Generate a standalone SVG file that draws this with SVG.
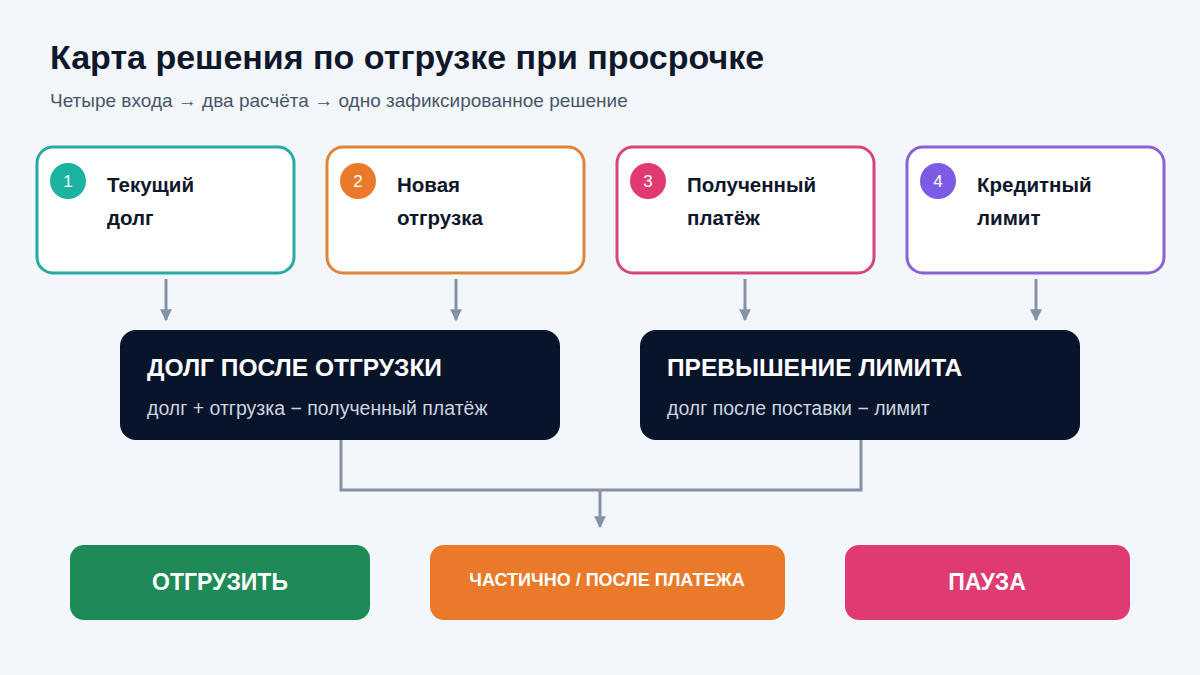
<svg xmlns="http://www.w3.org/2000/svg" width="1200" height="675" viewBox="0 0 1200 675">
<style>
text{font-family:"Liberation Sans",Arial,sans-serif}
.card{fill:#fff;stroke-width:3}
.lbl{font-size:20.5px;font-weight:700;fill:#0f172a}
.num{font-size:17px;fill:#fff;text-anchor:middle}
.dark{fill:#08142a}
.h{font-size:24.5px;font-weight:700;fill:#fff}
.sub{font-size:19.5px;fill:#cbd5e1}
.c{stroke:#8592a6;stroke-width:3;fill:none}
.out{font-weight:700;fill:#fff;text-anchor:middle}
</style>
<defs><marker id="a" viewBox="0 0 10 10" refX="9" refY="5" markerWidth="12" markerHeight="12" orient="auto" markerUnits="userSpaceOnUse"><path d="M0,0L10,5L0,10z" fill="#8592a6"/></marker></defs>
<rect width="1200" height="675" fill="#f3f7fb"/>
<text x="50" y="69" font-size="34" font-weight="700" fill="#0f172a">Карта решения по отгрузке при просрочке</text>
<text x="50" y="107" font-size="19" fill="#475569">Четыре входа → два расчёта → одно зафиксированное решение</text>
<g id="n1"><rect class="card" x="37" y="147" width="257" height="126" rx="16" stroke="#27aaa3"/><circle cx="68" cy="181" r="18" fill="#1bb3a0"/><text class="num" x="68" y="187">1</text><text class="lbl" x="107" y="192">Текущий</text><text class="lbl" x="107" y="225">долг</text></g>
<g id="n2"><rect class="card" x="327" y="147" width="257" height="126" rx="16" stroke="#e0843a"/><circle cx="358" cy="181" r="18" fill="#ea7a2a"/><text class="num" x="358" y="187">2</text><text class="lbl" x="397" y="192">Новая</text><text class="lbl" x="397" y="225">отгрузка</text></g>
<g id="n3"><rect class="card" x="617" y="147" width="257" height="126" rx="16" stroke="#d6467a"/><circle cx="648" cy="181" r="18" fill="#e13a73"/><text class="num" x="648" y="187">3</text><text class="lbl" x="687" y="192">Полученный</text><text class="lbl" x="687" y="225">платёж</text></g>
<g id="n4"><rect class="card" x="907" y="147" width="257" height="126" rx="16" stroke="#8a63d2"/><circle cx="938" cy="181" r="18" fill="#7c5ae6"/><text class="num" x="938" y="187">4</text><text class="lbl" x="977" y="192">Кредитный</text><text class="lbl" x="977" y="225">лимит</text></g>
<g id="calc1"><rect class="dark" x="120" y="330" width="440" height="110" rx="16"/><text class="h" x="147" y="376">ДОЛГ ПОСЛЕ ОТГРУЗКИ</text><text class="sub" x="147" y="415">долг + отгрузка − полученный платёж</text></g>
<g id="calc2"><rect class="dark" x="640" y="330" width="440" height="110" rx="16"/><text class="h" x="667" y="376">ПРЕВЫШЕНИЕ ЛИМИТА</text><text class="sub" x="667" y="415">долг после поставки − лимит</text></g>
<g id="o1"><rect x="70" y="545" width="300" height="75" rx="14" fill="#1d8a57"/><text class="out" x="220" y="590" font-size="23">ОТГРУЗИТЬ</text></g>
<g id="o2"><rect x="430" y="545" width="355" height="75" rx="14" fill="#ea7a2a"/><text class="out" x="607" y="586" font-size="18" fill="#fff6e0">ЧАСТИЧНО / ПОСЛЕ ПЛАТЕЖА</text></g>
<g id="o3"><rect x="845" y="545" width="285" height="75" rx="14" fill="#df3a72"/><text class="out" x="987" y="590" font-size="23">ПАУЗА</text></g>
<g id="connectors">
<path class="c" d="M166,279V320" marker-end="url(#a)"/>
<path class="c" d="M456,279V320" marker-end="url(#a)"/>
<path class="c" d="M745,279V320" marker-end="url(#a)"/>
<path class="c" d="M1036,279V320" marker-end="url(#a)"/>
<path class="c" d="M341,440V490H861V440"/>
<path class="c" d="M600,490V527" marker-end="url(#a)"/>
</g>
</svg>
